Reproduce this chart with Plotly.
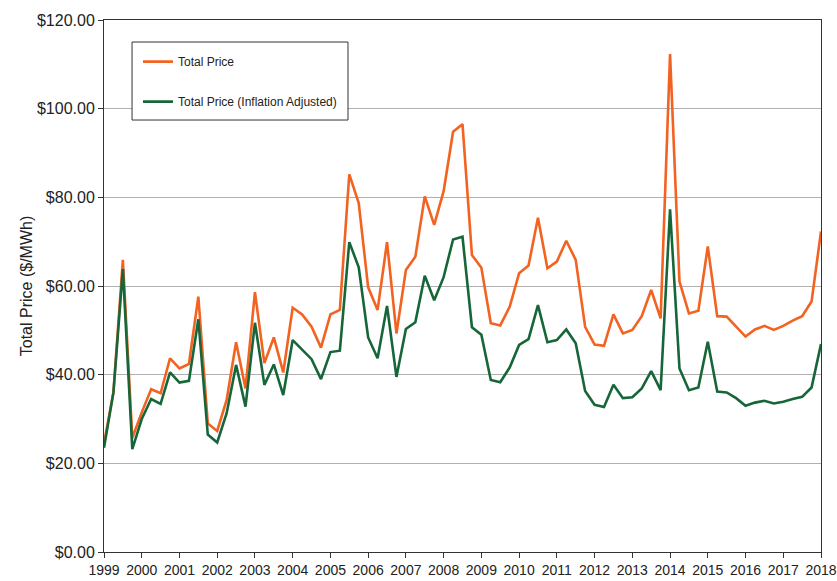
import plotly.graph_objects as go

# Quarterly observations from 1999 Q1 through 2018 Q1
start_year = 1999
periods_per_year = 4

total_price = [
    24.5, 36.0, 65.9, 25.7, 31.5, 36.7, 35.8, 43.7, 41.4, 42.4,
    57.6, 29.0, 27.3, 34.3, 47.3, 36.9, 58.6, 42.6, 48.4, 40.5,
    55.1, 53.6, 50.8, 46.1, 53.6, 54.6, 85.2, 78.7, 59.7, 54.6,
    69.9, 49.3, 63.6, 66.6, 80.2, 73.8, 81.4, 94.8, 96.5, 67.0,
    64.1, 51.6, 51.1, 55.3, 62.9, 64.6, 75.4, 64.0, 65.5, 70.2,
    65.9, 50.8, 46.8, 46.5, 53.6, 49.3, 50.1, 53.2, 59.1, 52.7,
    112.3, 61.0, 53.8, 54.4, 68.9, 53.2, 53.1, 50.8, 48.6, 50.2,
    51.0, 50.1, 51.0, 52.2, 53.2, 56.5, 72.3,
]

inflation_adjusted = [
    23.5, 36.0, 63.8, 23.2, 30.0, 34.5, 33.4, 40.5, 38.2, 38.6,
    52.5, 26.5, 24.7, 31.3, 42.2, 32.8, 51.7, 37.7, 42.3, 35.4,
    47.8, 45.7, 43.5, 39.0, 45.1, 45.4, 69.9, 64.2, 48.4, 43.7,
    55.5, 39.5, 50.3, 51.8, 62.3, 56.8, 62.0, 70.5, 71.1, 50.7,
    49.0, 38.8, 38.3, 41.6, 46.7, 48.0, 55.7, 47.3, 47.8, 50.2,
    47.1, 36.3, 33.2, 32.7, 37.7, 34.7, 34.9, 36.9, 40.8, 36.5,
    77.3, 41.4, 36.5, 37.1, 47.4, 36.2, 36.0, 34.7, 33.0, 33.7,
    34.1, 33.5, 33.9, 34.5, 35.0, 37.1, 46.9,
]

year_ticks = list(range(1999, 2019))
year_labels = [str(y) for y in year_ticks]
price_ticks = [0, 20, 40, 60, 80, 100, 120]
price_labels = ["$%.2f" % v for v in price_ticks]

series_names = ["Total Price", "Total Price (Inflation Adjusted)"]
series_colors = ["#F26322", "#17663A"]

x_vals = [start_year + i / periods_per_year for i in range(len(total_price))]

FONT = "Liberation Sans, Arial, sans-serif"

fig = go.Figure()
for name, vals, color, grp in zip(series_names, [total_price, inflation_adjusted],
                                  series_colors, ["a", "b"]):
    fig.add_trace(go.Scatter(
        x=x_vals, y=vals, mode="lines", name=name, legendgroup=grp,
        line=dict(color=color, width=2.6),
    ))

# Legend frame (decoration)
fig.add_shape(type="rect", xref="paper", yref="paper",
              x0=0.0391, x1=0.3403, y0=0.812, y1=0.9586,
              line=dict(color="#333333", width=1), fillcolor="white", layer="above")

fig.update_layout(
    width=837, height=581,
    margin=dict(l=104, r=16, t=20, b=29, autoexpand=False),
    paper_bgcolor="white", plot_bgcolor="white",
    font=dict(family=FONT, size=13, color="#222222"),
    showlegend=True,
    legend=dict(
        x=0.0474, y=0.949, xanchor="left", yanchor="top",
        bgcolor="rgba(0,0,0,0)", borderwidth=0,
        font=dict(family=FONT, size=12, color="#222222"),
        tracegroupgap=21, itemwidth=30,
    ),
    xaxis=dict(
        range=[1999, 2018], tickvals=year_ticks, ticktext=year_labels,
        ticks="outside", ticklen=5, tickcolor="#333333",
        showgrid=False, zeroline=False, automargin=False,
        showline=True, linecolor="#333333", linewidth=1, mirror=True,
        tickfont=dict(family=FONT, size=14),
    ),
    yaxis=dict(
        range=[0, 120], tickvals=price_ticks, ticktext=price_labels,
        ticks="outside", ticklen=5, tickcolor="#333333",
        showgrid=True, gridcolor="#b0b0b0", gridwidth=1, zeroline=False,
        automargin=False,
        showline=True, linecolor="#333333", linewidth=1, mirror=True,
        tickfont=dict(family=FONT, size=16),
        title=dict(text="Total Price ($/MWh)", font=dict(family=FONT, size=16), standoff=0),
    ),
)

fig.write_html("out.html", config={"displayModeBar": False},
               post_script="document.body.style.margin='0';")
